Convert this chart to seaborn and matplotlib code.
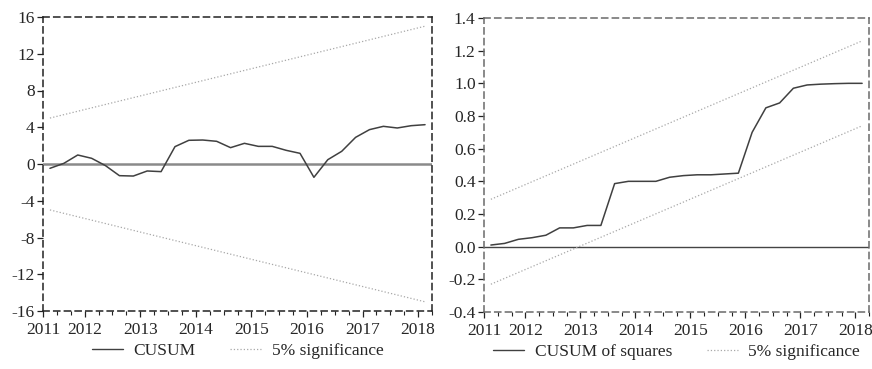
import numpy as np
import pandas as pd
import matplotlib
matplotlib.use("Agg")
import matplotlib.pyplot as plt
import seaborn as sns
from matplotlib.lines import Line2D

# quarterly observations 2011Q2 .. 2018Q1
quarters = pd.period_range("2011Q2", "2018Q1", freq="Q")

cusum = [-0.47, 0.07, 0.98, 0.62, -0.18, -1.27, -1.31, -0.76, -0.83, 1.89,
         2.58, 2.61, 2.47, 1.78, 2.25, 1.92, 1.92, 1.49, 1.16, -1.45,
         0.47, 1.38, 2.90, 3.74, 4.10, 3.92, 4.17, 4.28]
cusum_upper = [5.0, 15.0]
cusum_lower = [-5.0, -15.0]

cusum_sq = [0.01, 0.02, 0.045, 0.055, 0.07, 0.115, 0.115, 0.13, 0.13, 0.386,
            0.40, 0.40, 0.40, 0.425, 0.435, 0.44, 0.44, 0.445, 0.45, 0.70,
            0.85, 0.88, 0.97, 0.99, 0.995, 0.998, 1.0, 1.0]
sq_upper = [0.29, 1.26]
sq_lower = [-0.23, 0.74]

year_labels = ["2011", "2012", "2013", "2014", "2015", "2016", "2017", "2018"]

sns.set_style("white")
plt.rcParams["font.family"] = ["Liberation Serif", "DejaVu Serif"]
plt.rcParams["axes.unicode_minus"] = False

# numeric x at quarter centers
x = np.array([q.year + (q.quarter - 1) / 4 + 0.125 for q in quarters])
x_ends = [x[0], x[-1]]

df_left = pd.DataFrame({"x": x, "y": cusum})
df_right = pd.DataFrame({"x": x, "y": cusum_sq})

fig = plt.figure(figsize=(8.72, 3.69), dpi=100)
ax1 = fig.add_axes([43 / 872, 1 - 311 / 369, 389 / 872, 294 / 369])
ax2 = fig.add_axes([484 / 872, 1 - 312 / 369, 385 / 872, 294 / 369])

sig_color = "#a8a8a8"
line_color = "#404040"


def style_axis(ax, frame_color):
    for s in ax.spines.values():
        s.set_visible(True)
        s.set_linestyle((0, (4, 3)))
        s.set_color(frame_color)
        s.set_linewidth(1.1)
    ax.set_xlim(2011.25, 2018.25)
    tick_pos = [2011.25] + [2012 + i for i in range(7)]
    ax.set_xticks(tick_pos)
    ax.set_xticklabels(year_labels)
    ax.set_xticks(np.arange(2011.25, 2018.26, 0.25), minor=True)
    ax.tick_params(axis="both", which="major", direction="out", length=4,
                   width=0.9, color="#222222", labelsize=12.5, pad=2,
                   left=True, bottom=True)
    ax.tick_params(axis="x", which="major", pad=4)
    ax.tick_params(axis="x", which="minor", direction="out", length=3,
                   width=0.8, color="#222222", bottom=True)
    ax.set_xlabel("")
    ax.set_ylabel("")
    ax.grid(False)


# left: CUSUM
ax1.axhline(0, color="#8a8a8a", lw=1.8, zorder=1)
sns.lineplot(data=df_left, x="x", y="y", ax=ax1, color=line_color, lw=1.1)
sns.lineplot(x=x_ends, y=cusum_upper, ax=ax1, color=sig_color, lw=0.9, ls=":")
sns.lineplot(x=x_ends, y=cusum_lower, ax=ax1, color=sig_color, lw=0.9, ls=":")
ax1.set_ylim(-16, 16)
ax1.set_yticks(np.arange(-16, 17, 4))
ax1.set_yticklabels([str(v) for v in range(-16, 17, 4)])
style_axis(ax1, "#222222")

# right: CUSUM of squares
ax2.axhline(0, color="#444444", lw=1.0, zorder=1)
sns.lineplot(data=df_right, x="x", y="y", ax=ax2, color=line_color, lw=1.1)
sns.lineplot(x=x_ends, y=sq_upper, ax=ax2, color=sig_color, lw=0.9, ls=":")
sns.lineplot(x=x_ends, y=sq_lower, ax=ax2, color=sig_color, lw=0.9, ls=":")
ax2.set_ylim(-0.4, 1.4)
yt = np.arange(-0.4, 1.41, 0.2)
ax2.set_yticks(yt)
ax2.set_yticklabels([f"{v:.1f}".replace("-0.0", "0.0") for v in yt])
style_axis(ax2, "#6a6a6a")

# legends below each panel
for ax, name in [(ax1, "CUSUM"), (ax2, "CUSUM of squares")]:
    handles = [Line2D([], [], color=line_color, lw=1.0),
               Line2D([], [], color=sig_color, lw=0.9, ls=":")]
    ax.legend(handles, [name, "5% significance"], loc="center",
              bbox_to_anchor=(0.5, -0.135), ncol=2, frameon=False,
              fontsize=12.5, handlelength=1.8, columnspacing=2.0,
              handletextpad=0.6, borderpad=0.1)

fig.savefig("out.png", dpi=100)
